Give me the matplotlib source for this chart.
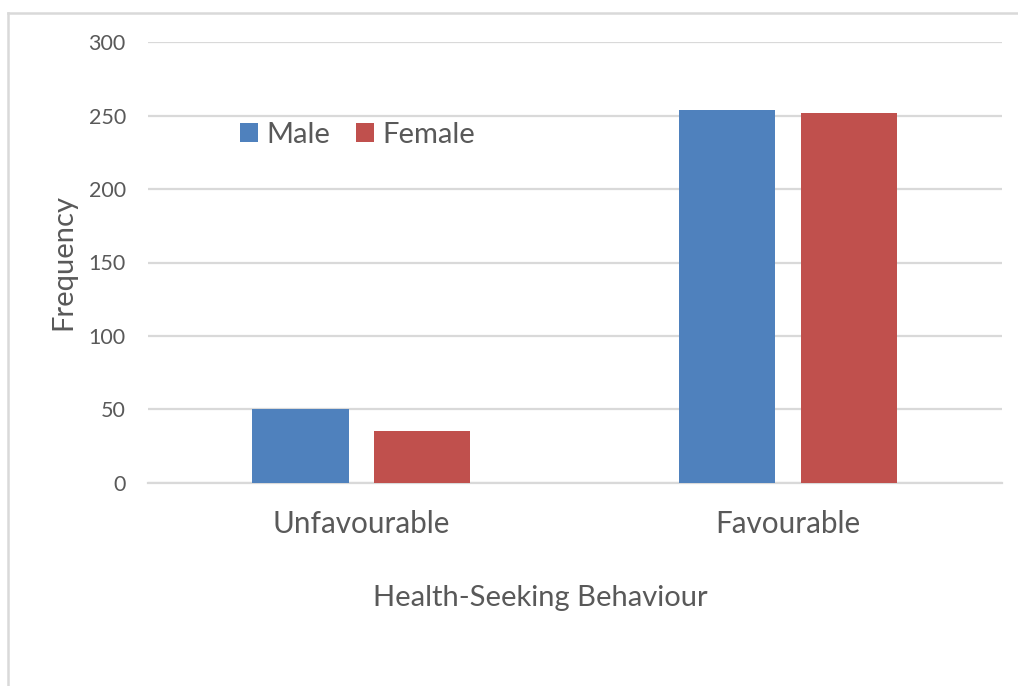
import matplotlib
matplotlib.use("Agg")
import matplotlib.pyplot as plt
from matplotlib.lines import Line2D
import numpy as np

categories = ["Unfavourable", "Favourable"]
series_names = ["Male", "Female"]
male = [50, 254]
female = [35, 252]
yticks = [0, 50, 100, 150, 200, 250, 300]

plt.rcParams['font.family'] = ['Lato', 'DejaVu Sans']
TXT = "#595959"
GRID = "#d9d9d9"
BLUE = "#4F81BD"
RED = "#C0504D"

W, H = 1018, 686
fig = plt.figure(figsize=(W/100, H/100), dpi=100)
ax = fig.add_axes([148/W, 1-482.7/H, (1001.7-148)/W, (482.7-42.3)/H])

x = np.arange(len(categories))
bw = 0.225
off = 0.1427
ax.bar(x - off, male, bw, color=BLUE, label=series_names[0], zorder=3)
ax.bar(x + off, female, bw, color=RED, label=series_names[1], zorder=3)

ax.set_xlim(-0.5, 1.5)
ax.set_ylim(0, 300)
ax.set_yticks(yticks)
ax.set_yticklabels([str(v) for v in yticks])
ax.set_xticks(x)
ax.set_xticklabels(categories)
ax.yaxis.grid(True, color=GRID, linewidth=1.6, zorder=0)
ax.set_axisbelow(True)
for s in ["top", "right", "left"]:
    ax.spines[s].set_visible(False)
ax.spines["bottom"].set_color(GRID)
ax.spines["bottom"].set_linewidth(1.6)
ax.tick_params(axis="y", length=0, pad=16, labelsize=15.5, labelcolor=TXT)
ax.tick_params(axis="x", length=0, pad=20, labelsize=21.3, labelcolor=TXT)

ax.set_ylabel("Frequency", fontsize=21, color=TXT, labelpad=0)
ax.yaxis.set_label_coords((63-148)/(1001.7-148), 0.5)
ax.yaxis.label.set_verticalalignment("center")
ax.set_xlabel("Health-Seeking Behaviour", fontsize=21, color=TXT)
ax.xaxis.set_label_coords((540-148)/(1001.7-148), -(598-482.7)/(482.7-42.3), transform=ax.transAxes)
ax.xaxis.label.set_verticalalignment("center")

leg = ax.legend(ncol=2, frameon=False, loc="center left",
                bbox_to_anchor=(240/W, 1-135/H), bbox_transform=fig.transFigure,
                fontsize=21, handlelength=0.6, handleheight=0.6,
                handletextpad=0.3, columnspacing=0.9, labelcolor=TXT,
                borderaxespad=0, borderpad=0)

# outer border (top and left)
fig.add_artist(Line2D([8/W, 8/W], [0, 1-13/H], color=GRID, linewidth=1.8, transform=fig.transFigure))
fig.add_artist(Line2D([8/W, 1], [1-13/H, 1-13/H], color=GRID, linewidth=1.8, transform=fig.transFigure))

fig.savefig("out.png", dpi=100)
